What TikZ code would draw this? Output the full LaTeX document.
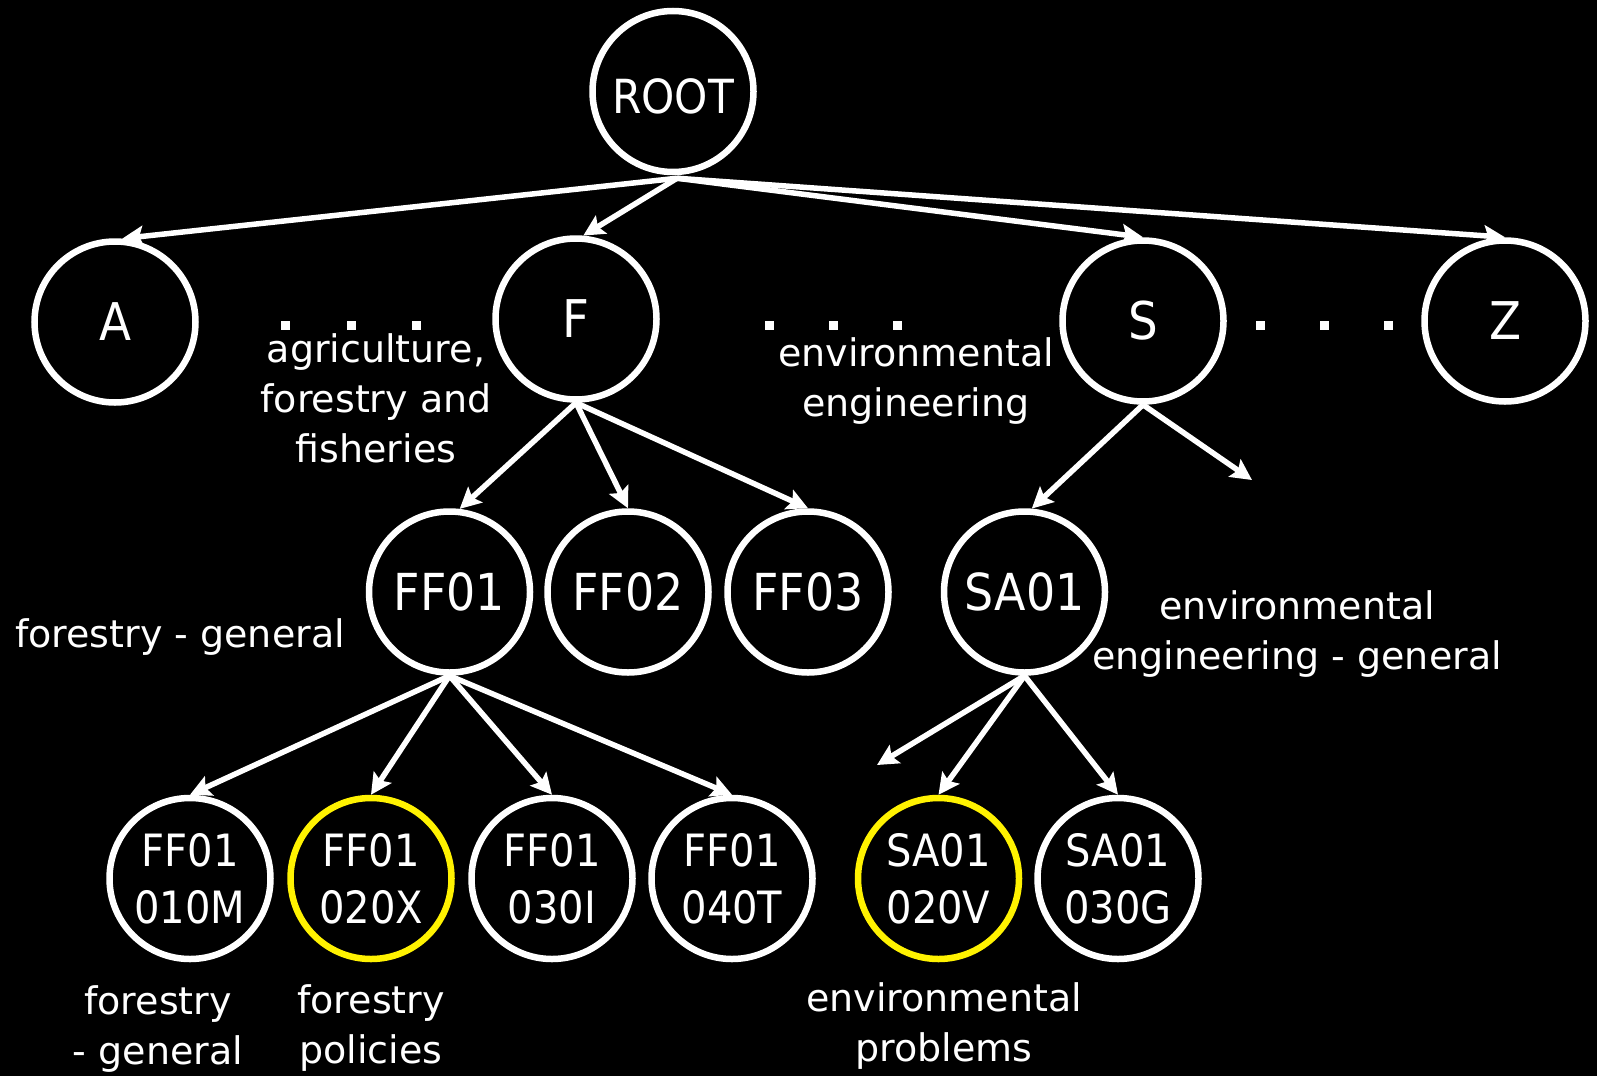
\documentclass[tikz,border=0pt]{standalone}
\usepackage{fontspec}
\setmainfont{DejaVu Sans}
\newfontfamily\condfont{DejaVu Sans Condensed}
\usetikzlibrary{arrows.meta,calc}

\begin{document}
\begin{tikzpicture}[x=1pt,y=-1pt,
  cat/.style={circle,draw=white,line width=6.5pt,minimum size=161pt,
    inner sep=0pt,text=white,align=center},
  small/.style={cat,font=\condfont\fontsize{44.5}{57}\selectfont},
  big/.style={cat,font=\condfont\fontsize{52}{60}\selectfont},
  mid/.style={cat,font=\condfont\fontsize{51}{60}\selectfont},
  picked/.style={small,draw=yellow},
  link/.style={draw=white,line width=5.5pt,
    -{Stealth[length=21pt,width=21pt,inset=4pt]}},
  note/.style={text=white,font=\fontsize{38}{50}\selectfont,align=center,
    inner sep=0pt},
  dotmark/.style={fill=white,minimum size=9pt,inner sep=0pt}
]
\fill[black] (0,0) rectangle (1597,1076);
\useasboundingbox (0,0) rectangle (1597,1076);

% root
\node[cat,minimum size=161pt,text height=44pt,
      font=\condfont\fontsize{47}{57}\selectfont]
  (root) at (673,91.5) {ROOT};
\coordinate (hub) at ($(root.south)+(4,3)$);

% first level
\node[big] (a) at (115,322) {A};
\node[big] (f) at (576,319) {F};
\node[big] (s) at (1143,321) {S};
\node[big] (z) at (1505,321) {Z};

% second level
\node[mid] (ff01) at (449.5,592) {FF01};
\node[mid] (ff02) at (628,592) {FF02};
\node[mid] (ff03) at (808,592) {FF03};
\node[mid] (sa01) at (1024.5,592) {SA01};

% leaves
\node[small]  (m)  at (190,878.5)   {FF01\\010M};
\node[picked] (x)  at (371,878.5)   {FF01\\020X};
\node[small]  (i)  at (552,878.5)   {FF01\\030I};
\node[small]  (t)  at (732,878.5)   {FF01\\040T};
\node[picked] (v)  at (938.5,878.5) {SA01\\020V};
\node[small]  (g)  at (1118,878.5)  {SA01\\030G};

% open ends
\coordinate (sopen) at (1252,480);
\coordinate (saopen) at (877,765);

% ellipsis marks
\foreach \px [count=\k] in {285,351,416,769,833,897,1260,1324,1388}
  \node[dotmark] (dot\k) at (\px,325.5) {};

% connectors
\draw[link] (hub) -- (a.85);
\draw[link] (hub) -- (f.85);
\draw[link] (hub) -- (s.north);
\draw[link] (hub) -- (z.north);
\draw[link] (f.south) -- (ff01.83);
\draw[link] (f.south) -- (ff02.north);
\draw[link] (f.south) -- (ff03.north);
\draw[link] (s.south) -- (sa01.85);
\draw[link] (s.south) -- (sopen);
\draw[link] (ff01.south) -- (m.north);
\draw[link] (ff01.south) -- (x.north);
\draw[link] (ff01.south) -- (i.north);
\draw[link] (ff01.south) -- (t.north);
\draw[link] (sa01.south) -- (saopen);
\draw[link] (sa01.south) -- (v.north);
\draw[link] (sa01.south) -- (g.north);

% descriptions
\node[note] (lf)   at (376,398)  {agriculture,\\forestry and\\fisheries};
\node[note] (ls)   at (916,381)  {environmental\\engineering};
\node[note] (lff)  at (180,637)  {forestry - general};
\node[note] (lsa)  at (1297,634) {environmental\\engineering - general};
\node[note] (lm)   at (158,1029) {forestry\\- general};
\node[note] (lx)   at (371,1028) {forestry\\policies};
\node[note] (lv)   at (944,1026) {environmental\\problems};
\end{tikzpicture}
\end{document}
